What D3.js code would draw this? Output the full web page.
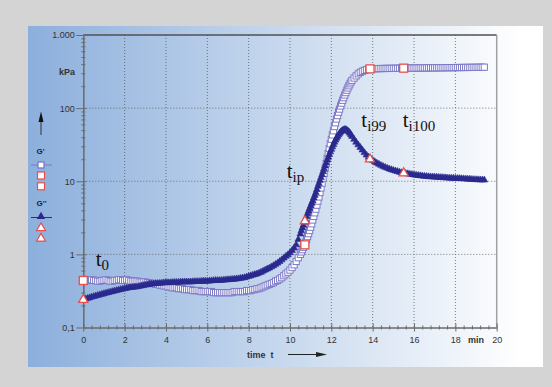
<!DOCTYPE html>
<html>
<head>
<meta charset="utf-8">
<script src="https://cdn.jsdelivr.net/npm/d3@7"></script>
<style>
  html, body { margin: 0; padding: 0; background: #d4d4d4; }
  svg { display: block; }
  text { font-family: "Liberation Sans", Arial, sans-serif; }
  .serif { font-family: "Liberation Serif", "Times New Roman", serif; fill: #111; }
</style>
</head>
<body>
<div class="container-chart"></div>
<script>
/* --------------------------------------------------------- */
/* DATA                               */
/* --------------------------------------------------------- */
// time in min: 0.1 steps, 0.05 steps during the fast rise
const timeMin = [
  0.0, 0.1, 0.2, 0.3, 0.4, 0.5, 0.6, 0.7, 0.8, 0.9,
  1.0, 1.1, 1.2, 1.3, 1.4, 1.5, 1.6, 1.7, 1.8, 1.9,
  2.0, 2.1, 2.2, 2.3, 2.4, 2.5, 2.6, 2.7, 2.8, 2.9,
  3.0, 3.1, 3.2, 3.3, 3.4, 3.5, 3.6, 3.7, 3.8, 3.9,
  4.0, 4.1, 4.2, 4.3, 4.4, 4.5, 4.6, 4.7, 4.8, 4.9,
  5.0, 5.1, 5.2, 5.3, 5.4, 5.5, 5.6, 5.7, 5.8, 5.9,
  6.0, 6.1, 6.2, 6.3, 6.4, 6.5, 6.6, 6.7, 6.8, 6.9,
  7.0, 7.1, 7.2, 7.3, 7.4, 7.5, 7.6, 7.7, 7.8, 7.9,
  8.0, 8.1, 8.2, 8.3, 8.4, 8.5, 8.6, 8.7, 8.8, 8.9,
  9.0, 9.1, 9.2, 9.3, 9.4, 9.5, 9.6, 9.7, 9.8, 9.9,
  10.0, 10.1, 10.2, 10.3, 10.4,
  10.5, 10.55, 10.6, 10.65, 10.7, 10.75, 10.8, 10.85, 10.9, 10.95,
  11.0, 11.05, 11.1, 11.15, 11.2, 11.25, 11.3, 11.35, 11.4, 11.45,
  11.5, 11.55, 11.6, 11.65, 11.7, 11.75, 11.8, 11.85, 11.9, 11.95,
  12.0, 12.05, 12.1, 12.15, 12.2, 12.25, 12.3, 12.35, 12.4, 12.45,
  12.5, 12.55, 12.6, 12.65, 12.7, 12.75, 12.8, 12.85, 12.9, 12.95, 13.0,
  13.1, 13.2, 13.3, 13.4, 13.5, 13.6, 13.7, 13.8, 13.9,
  14.0, 14.1, 14.2, 14.3, 14.4, 14.5, 14.6, 14.7, 14.8, 14.9,
  15.0, 15.1, 15.2, 15.3, 15.4, 15.5, 15.6, 15.7, 15.8, 15.9,
  16.0, 16.1, 16.2, 16.3, 16.4, 16.5, 16.6, 16.7, 16.8, 16.9,
  17.0, 17.1, 17.2, 17.3, 17.4, 17.5, 17.6, 17.7, 17.8, 17.9,
  18.0, 18.1, 18.2, 18.3, 18.4, 18.5, 18.6, 18.7, 18.8, 18.9,
  19.0, 19.1, 19.2, 19.3, 19.4
];

// storage modulus G' (kPa)
const gPrime = [
  0.44, 0.45, 0.44, 0.44, 0.45, 0.44, 0.44, 0.43, 0.43, 0.44,
  0.44, 0.45, 0.44, 0.43, 0.43, 0.44, 0.44, 0.45, 0.45, 0.44,
  0.44, 0.45, 0.44, 0.43, 0.43, 0.43, 0.43, 0.42, 0.42, 0.42,
  0.42, 0.41, 0.41, 0.40, 0.40, 0.39, 0.39, 0.38, 0.38, 0.37,
  0.37, 0.36, 0.36, 0.35, 0.35, 0.35, 0.34, 0.34, 0.34, 0.33,
  0.33, 0.33, 0.33, 0.32, 0.32, 0.32, 0.32, 0.31, 0.31, 0.31,
  0.31, 0.31, 0.31, 0.30, 0.30, 0.30, 0.30, 0.30, 0.30, 0.30,
  0.30, 0.30, 0.30, 0.31, 0.31, 0.31, 0.31, 0.31, 0.31, 0.32,
  0.32, 0.32, 0.33, 0.33, 0.34, 0.34, 0.35, 0.36, 0.37, 0.38,
  0.39, 0.40, 0.41, 0.43, 0.44, 0.46, 0.48, 0.51, 0.54, 0.57,
  0.61, 0.66, 0.72, 0.80, 0.90,
  1.0, 1.08, 1.16, 1.25, 1.35, 1.46, 1.6, 1.75, 1.92, 2.12,
  2.35, 2.62, 2.95, 3.3, 3.7, 4.15, 4.7, 5.35, 6.1, 7.0,
  8.1, 9.4, 11.0, 12.8, 15.0, 17.5, 20.5, 24, 28, 32.5,
  37.5, 43, 49, 56, 63, 71, 79, 88, 97, 107,
  117, 128, 139, 151, 163, 176, 189, 202, 215, 228, 240,
  258, 276, 294, 308, 319, 328, 335, 340, 343,
  345, 346, 347, 347, 348, 348, 349, 349, 349, 350,
  350, 350, 351, 351, 352, 352, 352, 352, 353, 353,
  353, 354, 354, 354, 355, 355, 355, 355, 356, 356,
  356, 356, 357, 357, 357, 357, 358, 358, 358, 358,
  359, 359, 359, 359, 360, 360, 360, 360, 361, 361,
  361, 362, 362, 362, 363
];

// loss modulus G'' (kPa)
const gDouble = [
  0.24, 0.245, 0.25, 0.255, 0.26, 0.265, 0.27, 0.275, 0.28, 0.285,
  0.29, 0.295, 0.30, 0.305, 0.31, 0.315, 0.32, 0.325, 0.33, 0.335,
  0.34, 0.345, 0.35, 0.352, 0.355, 0.358, 0.36, 0.365, 0.37, 0.375,
  0.38, 0.385, 0.39, 0.392, 0.395, 0.398, 0.40, 0.402, 0.405, 0.408,
  0.41, 0.41, 0.41, 0.412, 0.415, 0.415, 0.415, 0.418, 0.42, 0.42,
  0.42, 0.42, 0.42, 0.422, 0.425, 0.425, 0.425, 0.428, 0.43, 0.43,
  0.43, 0.432, 0.435, 0.438, 0.44, 0.44, 0.44, 0.442, 0.445, 0.448,
  0.45, 0.452, 0.455, 0.458, 0.46, 0.465, 0.47, 0.475, 0.48, 0.49,
  0.50, 0.51, 0.52, 0.53, 0.54, 0.555, 0.57, 0.59, 0.61, 0.63,
  0.65, 0.675, 0.70, 0.73, 0.76, 0.80, 0.84, 0.89, 0.94, 0.99,
  1.05, 1.13, 1.22, 1.35, 1.6,
  1.9, 2.1, 2.3, 2.5, 2.75, 3.0, 3.3, 3.6, 3.9, 4.25,
  4.6, 5.0, 5.4, 5.9, 6.4, 7.0, 7.7, 8.5, 9.3, 10.2,
  11.2, 12.3, 13.5, 14.8, 16.2, 17.8, 19.5, 21.3, 23.2, 25.2,
  27.3, 29.5, 31.8, 34.2, 36.5, 38.8, 41, 43.2, 45.2, 47,
  48.5, 49.7, 50.5, 51, 50.8, 50, 48.8, 47.2, 45.3, 43.2, 41,
  37.5, 34.2, 31.4, 29, 26.7, 24.6, 22.8, 21.3, 20.2,
  19.3, 18.5, 17.7, 17.1, 16.5, 16.0, 15.5, 15.1, 14.7, 14.4,
  14.1, 13.8, 13.6, 13.3, 13.1, 12.95, 12.8, 12.65, 12.5, 12.35,
  12.2, 12.1, 12.0, 11.9, 11.8, 11.7, 11.6, 11.55, 11.5, 11.45,
  11.4, 11.35, 11.3, 11.25, 11.2, 11.15, 11.1, 11.05, 11.0, 11.0,
  10.95, 10.9, 10.9, 10.85, 10.8, 10.75, 10.7, 10.65, 10.6, 10.55,
  10.5, 10.5, 10.45, 10.4, 10.4
];

// red marked points: t0, tip, ti99, ti100
const markTimes = [0, 10.72, 13.87, 15.5];
const gPrimeMarks = [0.44, 1.35, 344, 352];
const gDoubleMarks = [0.24, 2.85, 20, 12.9];

const xTicks = [0, 2, 4, 6, 8, 10, 12, 14, 16, 18, 20];
const yTicks = [0.1, 1, 10, 100, 1000];
const yTickLabels = ["0,1", "1", "10", "100", "1.000"];

/* --------------------------------------------------------- */
/* DRAW CHART                                                */
/* --------------------------------------------------------- */
const W = 552, H = 387;
const plot = { left: 83.3, right: 496.7, top: 35, bottom: 327.5 };

const colSquare = "#7c79c6";
const colTri = "#2a2a8e";
const colRed = "#e5504a";
const colGrid = "#5a5a5a";
const colAxis = "#6a6a6a";

const svg = d3.select(".container-chart")
    .append("svg")
    .attr("width", W)
    .attr("height", H);

const defs = svg.append("defs");
const grad = defs.append("linearGradient").attr("id", "panelGrad")
    .attr("x1", "0%").attr("x2", "100%").attr("y1", "0%").attr("y2", "0%");
grad.append("stop").attr("offset", "0%").attr("stop-color", "#8cafdc");
grad.append("stop").attr("offset", "96%").attr("stop-color", "#ffffff");
grad.append("stop").attr("offset", "100%").attr("stop-color", "#ffffff");

svg.append("rect").attr("width", W).attr("height", H).attr("fill", "#d4d4d4");
svg.append("rect")
    .attr("x", 28).attr("y", 26).attr("width", 515).attr("height", 341)
    .attr("fill", "url(#panelGrad)");

const x = d3.scaleLinear().domain([0, 20]).range([plot.left, plot.right]);
const y = d3.scaleLog().domain([0.1, 1000]).range([plot.bottom, plot.top]);

// grid
const grid = svg.append("g").attr("stroke", colGrid).attr("stroke-width", 0.8)
    .attr("stroke-dasharray", "1,2");
grid.selectAll(".vg").data(xTicks.filter(d => d > 0 && d < 20)).enter().append("line")
    .attr("x1", d => x(d)).attr("x2", d => x(d))
    .attr("y1", plot.top).attr("y2", plot.bottom);
grid.selectAll(".hg").data(yTicks.filter(d => d > 0.1 && d < 1000)).enter().append("line")
    .attr("x1", plot.left).attr("x2", plot.right)
    .attr("y1", d => y(d)).attr("y2", d => y(d));

// frame top / right
svg.append("line").attr("x1", plot.left).attr("x2", plot.right)
    .attr("y1", plot.top).attr("y2", plot.top)
    .attr("stroke", "#505050").attr("stroke-width", 1.5);
svg.append("line").attr("x1", plot.right).attr("x2", plot.right)
    .attr("y1", plot.top).attr("y2", plot.bottom)
    .attr("stroke", "#a0a0a0").attr("stroke-width", 1.5);

// axes
const xAxis = svg.append("g")
    .attr("transform", `translate(0,${plot.bottom})`)
    .call(d3.axisBottom(x).tickValues(xTicks).tickSizeInner(4).tickSizeOuter(0).tickPadding(5)
        .tickFormat(d => d));
const xMinor = [];
for (let i = 0; i < 50; i++) { if (i % 5 !== 0) xMinor.push(i * 0.4); }
svg.append("g")
    .attr("transform", `translate(0,${plot.bottom})`)
    .call(d3.axisBottom(x).tickValues(xMinor).tickSize(2).tickFormat(""))
    .call(g => g.select(".domain").remove())
    .call(g => g.selectAll(".tick line").attr("y1", -2).attr("stroke", colAxis));

const yAxis = svg.append("g")
    .attr("transform", `translate(${plot.left},0)`)
    .call(d3.axisLeft(y).tickValues(yTicks).tickSizeInner(7).tickSizeOuter(0).tickPadding(1.5)
        .tickFormat((d, i) => yTickLabels[i]));
const yMinor = [];
[0.1, 1, 10, 100].forEach(dec => { for (let k = 2; k <= 9; k++) yMinor.push(dec * k); });
svg.append("g")
    .attr("transform", `translate(${plot.left},0)`)
    .call(d3.axisLeft(y).tickValues(yMinor).tickSize(2).tickFormat(""))
    .call(g => g.select(".domain").remove())
    .call(g => g.selectAll(".tick line").attr("x1", 2).attr("stroke", colAxis));

[xAxis, yAxis].forEach(a => {
    a.select(".domain").attr("stroke", colAxis).attr("stroke-width", 1.5);
    a.selectAll(".tick line").attr("stroke", colAxis);
    a.selectAll(".tick text").attr("fill", "#333").style("font-size", "9px")
        .style("font-family", "'Liberation Sans', Arial, sans-serif");
});
xAxis.selectAll(".tick line").attr("y1", -4);
yAxis.selectAll(".tick line").attr("x1", 3);

// axis titles
svg.append("text").attr("x", 75).attr("y", 75).attr("text-anchor", "end")
    .style("font-size", "9px").style("font-weight", "bold").attr("fill", "#333").text("kPa");
svg.append("text").attr("x", 468).attr("y", 342.5)
    .style("font-size", "9px").style("font-weight", "bold").attr("fill", "#333").text("min");
svg.append("text").attr("x", 247).attr("y", 357.5).style("white-space", "pre")
    .style("font-size", "9px").style("font-weight", "bold").attr("fill", "#333").text("time  t");
svg.append("line").attr("x1", 288).attr("x2", 318).attr("y1", 354.5).attr("y2", 354.5)
    .attr("stroke", "#222").attr("stroke-width", 1);
svg.append("path").attr("d", "M316,352 L327,354.5 L316,357 Z").attr("fill", "#222");

// marker shapes
const sqSize = 6.2;
const triPath = d3.symbol().type(d3.symbolTriangle).size(20);

// G' squares
svg.append("g").selectAll("rect").data(timeMin).enter().append("rect")
    .attr("x", (d) => x(d) - sqSize / 2)
    .attr("y", (d, i) => y(gPrime[i]) - sqSize / 2)
    .attr("width", sqSize).attr("height", sqSize)
    .attr("fill", "#ffffff").attr("stroke", colSquare).attr("stroke-width", 1);

// G'' triangles
svg.append("g").selectAll("path").data(timeMin).enter().append("path")
    .attr("d", triPath)
    .attr("transform", (d, i) => `translate(${x(d)},${y(gDouble[i])})`)
    .attr("fill", colTri).attr("stroke", colTri).attr("stroke-width", 0.6);

// red highlighted points
svg.append("g").selectAll("rect").data(markTimes).enter().append("rect")
    .attr("x", d => x(d) - 4)
    .attr("y", (d, i) => y(gPrimeMarks[i]) - 4)
    .attr("width", 8).attr("height", 8)
    .attr("fill", "#ffffff").attr("stroke", colRed).attr("stroke-width", 1.3);
svg.append("g").selectAll("path").data(markTimes).enter().append("path")
    .attr("d", d3.symbol().type(d3.symbolTriangle).size(36))
    .attr("transform", (d, i) => `translate(${x(d)},${y(gDoubleMarks[i])})`)
    .attr("fill", "#ffffff").attr("stroke", colRed).attr("stroke-width", 1.3);

// annotations t0, tip, ti99, ti100
const notes = [
    { t: 0.6, v: 0.69, sub: "0" },
    { t: 9.84, v: 11.1, sub: "ip" },
    { t: 13.45, v: 55, sub: "i99" },
    { t: 15.45, v: 55, sub: "i100" }
];
notes.forEach(n => {
    const tx = svg.append("text").attr("class", "serif")
        .attr("x", x(n.t)).attr("y", y(n.v)).style("font-size", "21px");
    tx.append("tspan").text("t");
    tx.append("tspan").attr("dy", 4).style("font-size", "15px").text(n.sub);
});

// legend at left
const leg = svg.append("g");
leg.append("line").attr("x1", 41).attr("x2", 41).attr("y1", 135).attr("y2", 120)
    .attr("stroke", "#333").attr("stroke-width", 1);
leg.append("path").attr("d", "M38.5,122 L41,111.5 L43.5,122 Z").attr("fill", "#111");
leg.append("text").attr("x", 36.5).attr("y", 154).style("font-size", "8px")
    .style("font-weight", "bold").attr("fill", "#222").text("G'");
leg.append("line").attr("x1", 31).attr("x2", 52).attr("y1", 165).attr("y2", 165)
    .attr("stroke", colSquare).attr("stroke-width", 1);
leg.append("rect").attr("x", 38).attr("y", 162).attr("width", 6).attr("height", 6)
    .attr("fill", "#fff").attr("stroke", colSquare).attr("stroke-width", 1.3);
[175.5, 186.3].forEach(cy => leg.append("rect").attr("x", 37.5).attr("y", cy - 3.5)
    .attr("width", 7).attr("height", 7)
    .attr("fill", "#fff").attr("stroke", colRed).attr("stroke-width", 1.2));
leg.append("text").attr("x", 36.5).attr("y", 206).style("font-size", "8px")
    .style("font-weight", "bold").attr("fill", "#222").text("G''");
leg.append("line").attr("x1", 31).attr("x2", 52).attr("y1", 217.5).attr("y2", 217.5)
    .attr("stroke", colTri).attr("stroke-width", 1);
leg.append("path").attr("d", d3.symbol().type(d3.symbolTriangle).size(30))
    .attr("transform", "translate(41,216.5)").attr("fill", colTri);
[228, 238.5].forEach(cy => leg.append("path")
    .attr("d", d3.symbol().type(d3.symbolTriangle).size(34))
    .attr("transform", `translate(41,${cy})`)
    .attr("fill", "#fff").attr("stroke", colRed).attr("stroke-width", 1.2));
</script>
</body>
</html>
